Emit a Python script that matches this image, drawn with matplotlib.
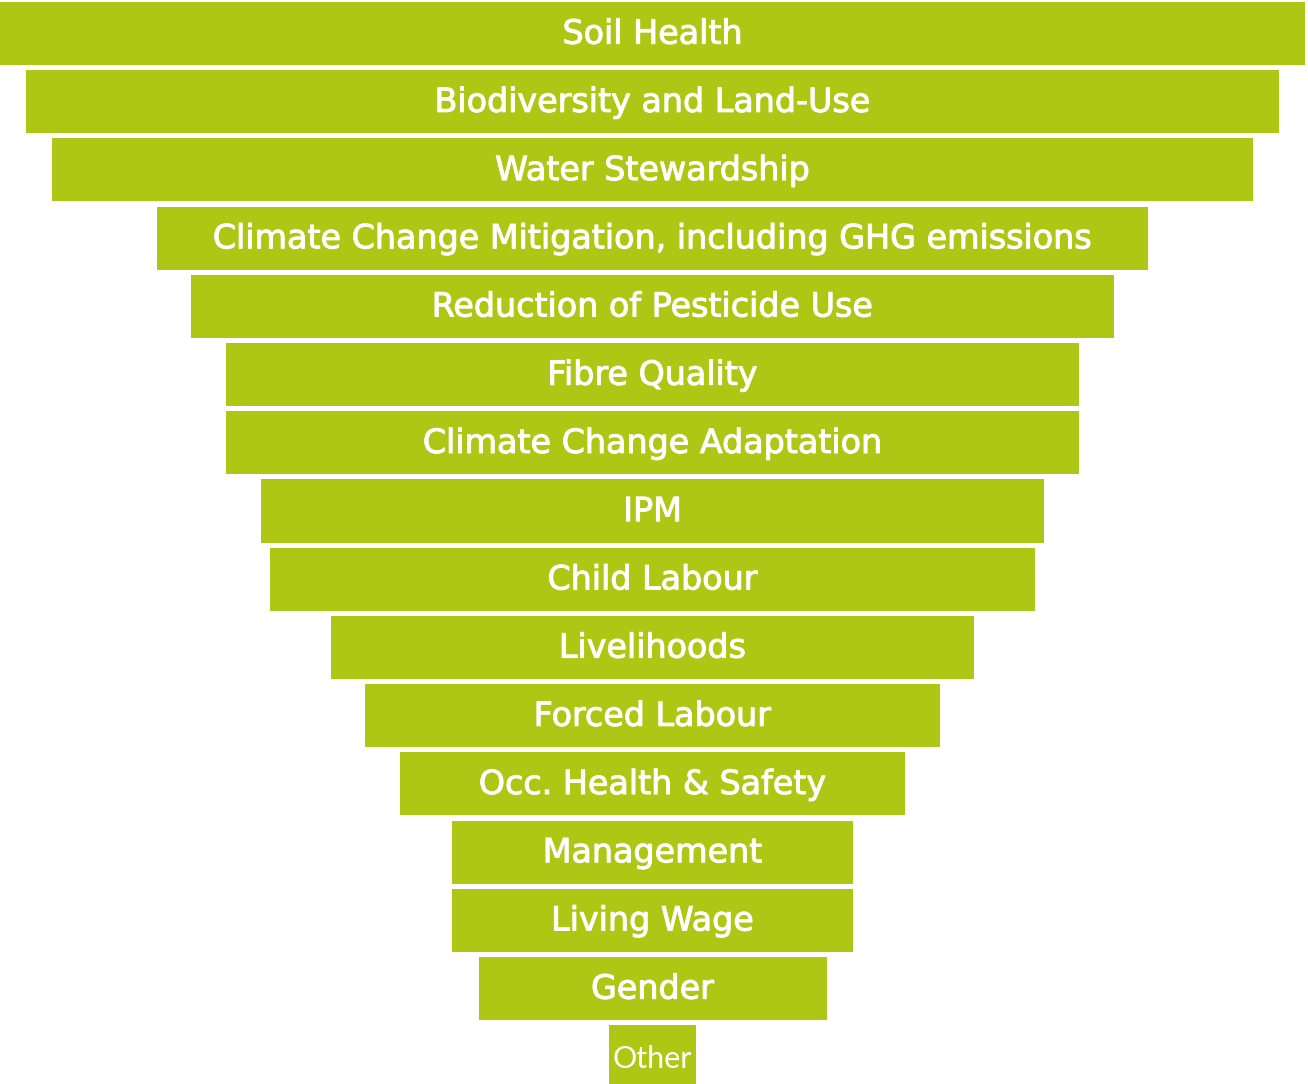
import matplotlib
matplotlib.use("Agg")
import matplotlib.pyplot as plt
import matplotlib.patheffects as pe

categories = ["Soil Health", "Biodiversity and Land-Use", "Water Stewardship",
              "Climate Change Mitigation, including GHG emissions",
              "Reduction of Pesticide Use", "Fibre Quality", "Climate Change Adaptation",
              "IPM", "Child Labour", "Livelihoods", "Forced Labour",
              "Occ. Health & Safety", "Management", "Living Wage", "Gender", "Other"]
values = [75, 72, 69, 57, 53, 49, 49, 45, 44, 37, 33, 29, 23, 23, 20, 5]

color = "#ACC814"

fig = plt.figure(figsize=(13.08, 10.84), dpi=100)
ax = fig.add_axes([0, 0, 1, 1])
ypos = list(range(len(values)))
lefts = [-v / 2 for v in values]
ax.barh(ypos, values, left=lefts, height=0.924, color=color, edgecolor="none")

stroke = [pe.withStroke(linewidth=0.7, foreground="white")]
for y, (cat, v) in enumerate(zip(categories, values)):
    if cat == "Other":
        ax.text(0, y + 0.03, cat, ha="center", va="center", color="white",
                fontsize=22, family="Lato", fontweight="normal")
    else:
        ax.text(0, y + 0.01, cat, ha="center", va="center", color="white",
                fontsize=24, family="DejaVu Sans", fontweight="normal",
                path_effects=stroke)

ax.set_xlim(-37.5, 37.67)
ax.set_ylim(15.40, -0.491)
ax.axis("off")
fig.savefig("out.png", dpi=100, facecolor="white")
